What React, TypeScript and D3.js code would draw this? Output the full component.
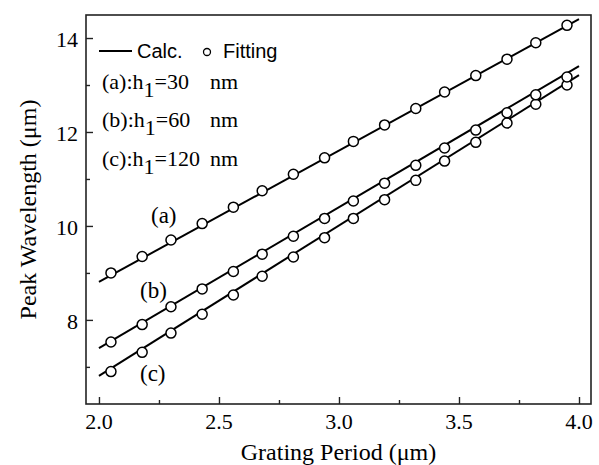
import { useEffect, useRef } from "react";
import * as d3 from "d3";

// grating period (um) of the fitted points
const periods = [2.05, 2.18, 2.3, 2.43, 2.56, 2.68, 2.81, 2.94, 3.06, 3.19, 3.32, 3.44, 3.57, 3.7, 3.82, 3.95];
// fitting points, peak wavelength (um)
const fitA = [9.0, 9.35, 9.7, 10.05, 10.4, 10.75, 11.1, 11.45, 11.8, 12.15, 12.5, 12.85, 13.2, 13.55, 13.9, 14.27];
const fitB = [7.53, 7.9, 8.28, 8.66, 9.03, 9.4, 9.78, 10.16, 10.53, 10.91, 11.29, 11.66, 12.04, 12.41, 12.79, 13.17];
const fitC = [6.9, 7.31, 7.72, 8.12, 8.53, 8.93, 9.34, 9.75, 10.16, 10.56, 10.97, 11.38, 11.78, 12.19, 12.59, 13.0];
// calculated lines (endpoints)
const calcX = [2.0, 4.0];
const calcA = [8.81, 14.4];
const calcB = [7.4, 13.4];
const calcC = [6.81, 13.21];

const xTicks = [2.0, 2.5, 3.0, 3.5, 4.0];
const yTicks = [8, 10, 12, 14];

export default function App() {
  const ref = useRef<SVGSVGElement>(null);

  useEffect(() => {
    const svg = d3.select(ref.current);
    svg.selectAll("*").remove();
    const serif = "'Liberation Serif', 'Times New Roman', serif";
    const sans = "'Liberation Sans', Arial, sans-serif";
    const left = 86, right = 591, top = 15, bottom = 404;

    const x = d3.scaleLinear().domain([1.946, 4.05]).range([left, right]);
    const y = d3.scaleLinear().domain([6.21, 14.49]).range([bottom, top]);

    // frame
    svg.append("rect")
      .attr("x", left).attr("y", top)
      .attr("width", right - left).attr("height", bottom - top)
      .attr("fill", "none").attr("stroke", "#222").attr("stroke-width", 1.6);

    // ticks, pointing inward
    const xAxis = d3.axisTop(x).tickValues(d3.range(2.0, 4.01, 0.25)).tickSize(6).tickFormat(() => "");
    const gx = svg.append("g").attr("transform", `translate(0,${bottom})`).call(xAxis);
    gx.select(".domain").remove();
    gx.selectAll(".tick line")
      .attr("stroke", "#222").attr("stroke-width", 1.4)
      .attr("y2", (d: any) => (Math.abs((d * 2) % 1) < 1e-6 ? -7 : -4));

    const yAxis = d3.axisRight(y).tickValues(d3.range(7, 14.01, 1)).tickSize(6).tickFormat(() => "");
    const gy = svg.append("g").attr("transform", `translate(${left},0)`).call(yAxis);
    gy.select(".domain").remove();
    gy.selectAll(".tick line")
      .attr("stroke", "#222").attr("stroke-width", 1.4)
      .attr("x2", (d: any) => (d % 2 === 0 ? 7 : 4));

    // tick labels
    svg.selectAll(".xl").data(xTicks).join("text")
      .attr("x", (d) => x(d)).attr("y", 429)
      .attr("text-anchor", "middle").attr("font-family", serif).attr("font-size", 22)
      .text((d) => d.toFixed(1));
    svg.selectAll(".yl").data(yTicks).join("text")
      .attr("x", 78).attr("y", (d) => y(d) + 9)
      .attr("text-anchor", "end").attr("font-family", serif).attr("font-size", 22)
      .text((d) => String(d));

    // axis titles
    svg.append("text")
      .attr("x", (left + right) / 2).attr("y", 460)
      .attr("text-anchor", "middle").attr("font-family", serif).attr("font-size", 24)
      .text("Grating Period (\u03bcm)");
    svg.append("text")
      .attr("transform", `translate(36,${(top + bottom) / 2}) rotate(-90)`)
      .attr("text-anchor", "middle").attr("font-family", serif).attr("font-size", 24)
      .text("Peak Wavelength (\u03bcm)");

    // calc lines
    const line = d3.line<number>().x((_, i) => x(calcX[i])).y((d) => y(d));
    [calcA, calcB, calcC].forEach((c) => {
      svg.append("path").attr("d", line(c)).attr("fill", "none")
        .attr("stroke", "#000").attr("stroke-width", 2);
    });

    // fitting circles
    [fitC, fitB, fitA].forEach((f) => {
      svg.append("g").selectAll("circle").data(f).join("circle")
        .attr("cx", (_, i) => x(periods[i])).attr("cy", (d) => y(d)).attr("r", 5)
        .attr("fill", "#fff").attr("stroke", "#000").attr("stroke-width", 1.5);
    });

    // curve labels
    const curveLabels: [string, number, number][] = [["(a)", 151, 223], ["(b)", 140, 298], ["(c)", 140, 381]];
    curveLabels.forEach(([t, lx, ly]) => {
      svg.append("text").attr("x", lx).attr("y", ly)
        .attr("font-family", serif).attr("font-size", 23).text(t);
    });

    // legend
    svg.append("line").attr("x1", 99).attr("x2", 132).attr("y1", 51).attr("y2", 51)
      .attr("stroke", "#000").attr("stroke-width", 2);
    svg.append("text").attr("x", 137).attr("y", 58)
      .attr("font-family", sans).attr("font-size", 20).text("Calc.");
    svg.append("circle").attr("cx", 207).attr("cy", 52).attr("r", 3.5)
      .attr("fill", "#fff").attr("stroke", "#000").attr("stroke-width", 1.3);
    svg.append("text").attr("x", 223).attr("y", 58)
      .attr("font-family", sans).attr("font-size", 20).text("Fitting");

    const hLabels: [string, string, number][] = [["(a)", "30", 89], ["(b)", "60", 127], ["(c)", "120", 166]];
    hLabels.forEach(([p, v, ly]) => {
      const t = svg.append("text").attr("x", 102).attr("y", ly)
        .attr("font-family", serif).attr("font-size", 22);
      t.append("tspan").text(`${p}:h`);
      t.append("tspan").attr("dy", 8).text("1");
      t.append("tspan").attr("dy", -8).text(`=${v}`);
      svg.append("text").attr("x", 210).attr("y", ly)
        .attr("font-family", serif).attr("font-size", 22).text("nm");
    });
  }, []);

  return (
    <svg ref={ref} width={599} height={465} style={{ position: "absolute", left: 0, top: 0, background: "#fff" }} />
  );
}
